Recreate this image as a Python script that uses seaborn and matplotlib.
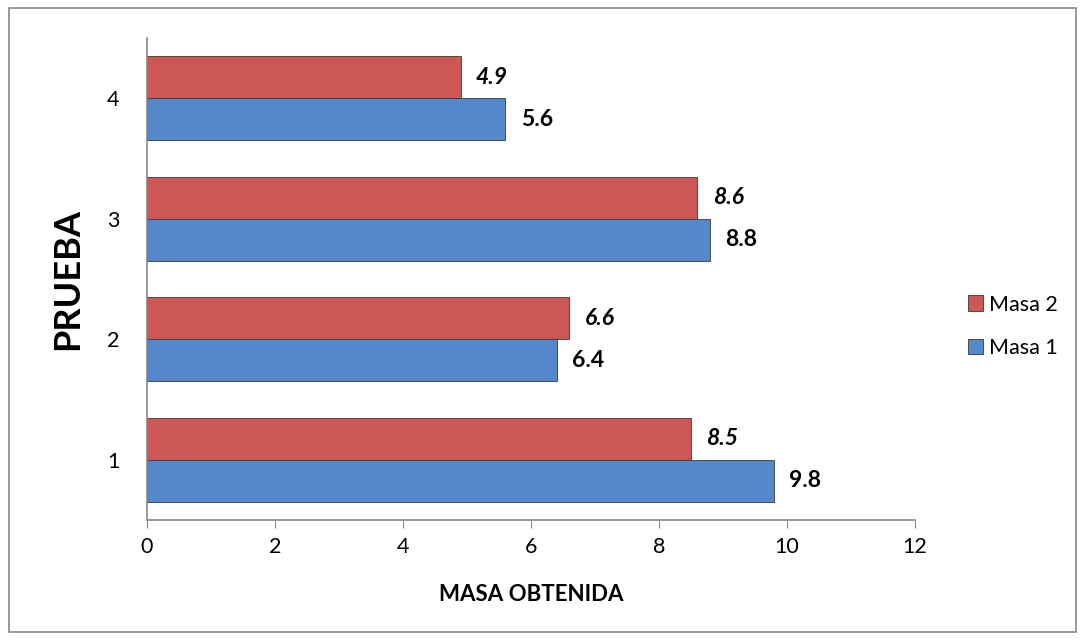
import numpy as np
import pandas as pd
import matplotlib
matplotlib.use("Agg")
import matplotlib.pyplot as plt
import seaborn as sns
from matplotlib.patches import Rectangle

pruebas = ["1", "2", "3", "4"]
masa_1 = [9.8, 6.4, 8.8, 5.6]
masa_2 = [8.5, 6.6, 8.6, 4.9]

df = pd.DataFrame({
    "Prueba": pruebas * 2,
    "Masa": masa_1 + masa_2,
    "Serie": ["Masa 1"] * 4 + ["Masa 2"] * 4,
})

sns.set_style("white")
plt.rcParams['font.family'] = ['Lato', 'DejaVu Sans']
plt.rcParams['text.color'] = 'black'
plt.rcParams['axes.labelcolor'] = 'black'
plt.rcParams['xtick.color'] = 'black'
plt.rcParams['ytick.color'] = 'black'

fig = plt.figure(figsize=(10.84, 6.4), dpi=100)
ax = fig.add_axes([0.1356, 0.1875, 0.7085, 0.753])

colores = {"Masa 2": "#CD5753", "Masa 1": "#5588CB"}
sns.barplot(data=df, x="Masa", y="Prueba", hue="Serie", orient="h",
            order=["4", "3", "2", "1"], hue_order=["Masa 2", "Masa 1"],
            palette=colores, width=0.7, saturation=1, ax=ax,
            edgecolor="#3a3a3a", linewidth=0.6)

# etiquetas de datos
ax.bar_label(ax.containers[0], fmt="%.1f", padding=11, fontsize=16.5,
             fontweight="bold", fontstyle="italic")
ax.bar_label(ax.containers[1], fmt="%.1f", padding=11, fontsize=16.5,
             fontweight="bold")

ax.set_xlim(0, 12)
ax.set_xticks(np.arange(0, 13, 2))
ax.set_xlabel("MASA OBTENIDA", fontsize=16, fontweight="bold", labelpad=20)
ax.set_ylabel("PRUEBA", fontsize=26, fontweight="bold", labelpad=16)
ax.tick_params(axis="x", length=6, color="#888888", labelcolor="black", labelsize=15.5,
               direction="out", bottom=True, pad=6)
ax.tick_params(axis="y", length=0, labelsize=15.5, labelcolor="black", pad=20)

for s in ["top", "right"]:
    ax.spines[s].set_visible(False)
for s in ["left", "bottom"]:
    ax.spines[s].set_color("#888888")
    ax.spines[s].set_linewidth(1.2)

ax.legend(loc="center left", bbox_to_anchor=(0.875, 0.49), bbox_transform=fig.transFigure,
          frameon=False, fontsize=15.5, handlelength=0.7, handleheight=0.7,
          labelspacing=1.1, handletextpad=0.3)

fig.patches.append(Rectangle((0.008, 0.013), 0.985, 0.975, transform=fig.transFigure,
                             fill=False, edgecolor="#888888", linewidth=1.2))

fig.savefig("out.png", dpi=100)
